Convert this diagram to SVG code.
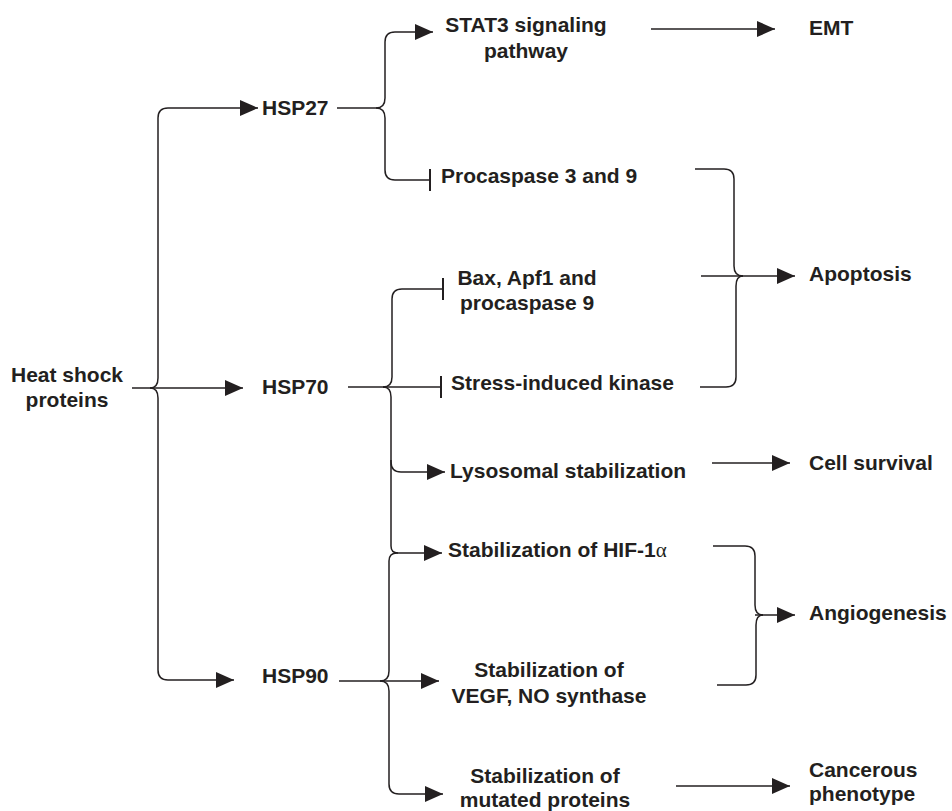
<svg xmlns="http://www.w3.org/2000/svg" width="952" height="811" viewBox="0 0 952 811">
<style>
text{font-family:"Liberation Sans",Arial,sans-serif;font-size:21px;font-weight:bold;fill:#231f20}
.c{fill:none;stroke:#231f20;stroke-width:1.5}
.m{text-anchor:middle}
</style>
<defs>
<marker id="arr" markerUnits="userSpaceOnUse" markerWidth="18" markerHeight="16" viewBox="0 0 18 16" refX="18" refY="8" orient="auto">
<path d="M0,0 L18,8 L0,16 z" fill="#231f20"/>
</marker>
<marker id="tee" markerUnits="userSpaceOnUse" markerWidth="4" markerHeight="24" viewBox="0 0 4 24" refX="2" refY="12" orient="auto">
<path d="M2,1 L2,23" stroke="#231f20" stroke-width="2"/>
</marker>
</defs>
<rect width="952" height="811" fill="#fff"/>
<g id="connectors">
<path class="c" d="M132 388 L243 388" marker-end="url(#arr)"/>
<path class="c" d="M150 388 Q158 388 158 378 L158 118 Q158 108 168 108 L258 108" marker-end="url(#arr)"/>
<path class="c" d="M150 388 Q158 388 158 398 L158 670 Q158 680 168 680 L234 680" marker-end="url(#arr)"/>
<path class="c" d="M337 108 L376 108"/>
<path class="c" d="M376 108 Q385 108 385 98 L385 42 Q385 32 395 32 L433 32" marker-end="url(#arr)"/>
<path class="c" d="M376 108 Q385 108 385 118 L385 170 Q385 180 395 180 L430 180" marker-end="url(#tee)"/>
<path class="c" d="M651 29 L775 29" marker-end="url(#arr)"/>
<path class="c" d="M695 169 L724 169 Q734 169 734 179 L734 266 Q734 276 743 276"/>
<path class="c" d="M743 276 Q736 276 736 286 L736 377 Q736 387 726 387 L700 387"/>
<path class="c" d="M701 276 L795 276" marker-end="url(#arr)"/>
<path class="c" d="M348 387 L441 387" marker-end="url(#tee)"/>
<path class="c" d="M383 387 Q392 387 392 377 L392 299 Q392 289 402 289 L443 289" marker-end="url(#tee)"/>
<path class="c" d="M383 387 Q391 387 391 397 L391 546 Q391 553 398 553"/>
<path class="c" d="M391 460 L391 462 Q391 472 401 472 L445 472" marker-end="url(#arr)"/>
<path class="c" d="M712 463 L790 463" marker-end="url(#arr)"/>
<path class="c" d="M339 681 L439 681" marker-end="url(#arr)"/>
<path class="c" d="M380 681 Q389 681 389 671 L389 561 Q389 553 397 553 L442 553" marker-end="url(#arr)"/>
<path class="c" d="M380 681 Q389 681 389 691 L389 784 Q389 794 399 794 L443 794" marker-end="url(#arr)"/>
<path class="c" d="M713 546 L745 546 Q755 546 755 556 L755 605 Q755 615 763 615"/>
<path class="c" d="M763 615 Q756 615 756 625 L756 675 Q756 685 746 685 L717 685"/>
<path class="c" d="M755 615 L795 615" marker-end="url(#arr)"/>
<path class="c" d="M676 786 L790 786" marker-end="url(#arr)"/>
</g>
<g id="hsp"><text class="m" x="67" y="382">Heat shock</text><text class="m" x="67" y="407">proteins</text></g>
<g id="hsp27"><text x="262" y="115">HSP27</text></g>
<g id="hsp70"><text x="262" y="394">HSP70</text></g>
<g id="hsp90"><text x="262" y="683">HSP90</text></g>
<g id="stat3"><text class="m" x="526" y="32">STAT3 signaling</text><text class="m" x="526" y="58">pathway</text></g>
<g id="emt"><text x="809" y="35">EMT</text></g>
<g id="procaspase"><text x="441" y="183">Procaspase 3 and 9</text></g>
<g id="bax"><text class="m" x="527" y="285">Bax, Apf1 and</text><text class="m" x="527" y="310">procaspase 9</text></g>
<g id="stress"><text x="451" y="390">Stress-induced kinase</text></g>
<g id="apoptosis"><text x="809" y="281">Apoptosis</text></g>
<g id="lysosomal"><text x="450" y="478">Lysosomal stabilization</text></g>
<g id="survival"><text x="809" y="470">Cell survival</text></g>
<g id="hif"><text x="448" y="557">Stabilization of HIF-1<tspan font-family="'Liberation Serif',serif" font-weight="normal">α</tspan></text></g>
<g id="angiogenesis"><text x="809" y="620">Angiogenesis</text></g>
<g id="vegf"><text class="m" x="549" y="677">Stabilization of</text><text class="m" x="549" y="703">VEGF, NO synthase</text></g>
<g id="mutated"><text class="m" x="545" y="783">Stabilization of</text><text class="m" x="545" y="807">mutated proteins</text></g>
<g id="cancerous"><text x="809" y="777">Cancerous</text><text x="809" y="801">phenotype</text></g>
</svg>
